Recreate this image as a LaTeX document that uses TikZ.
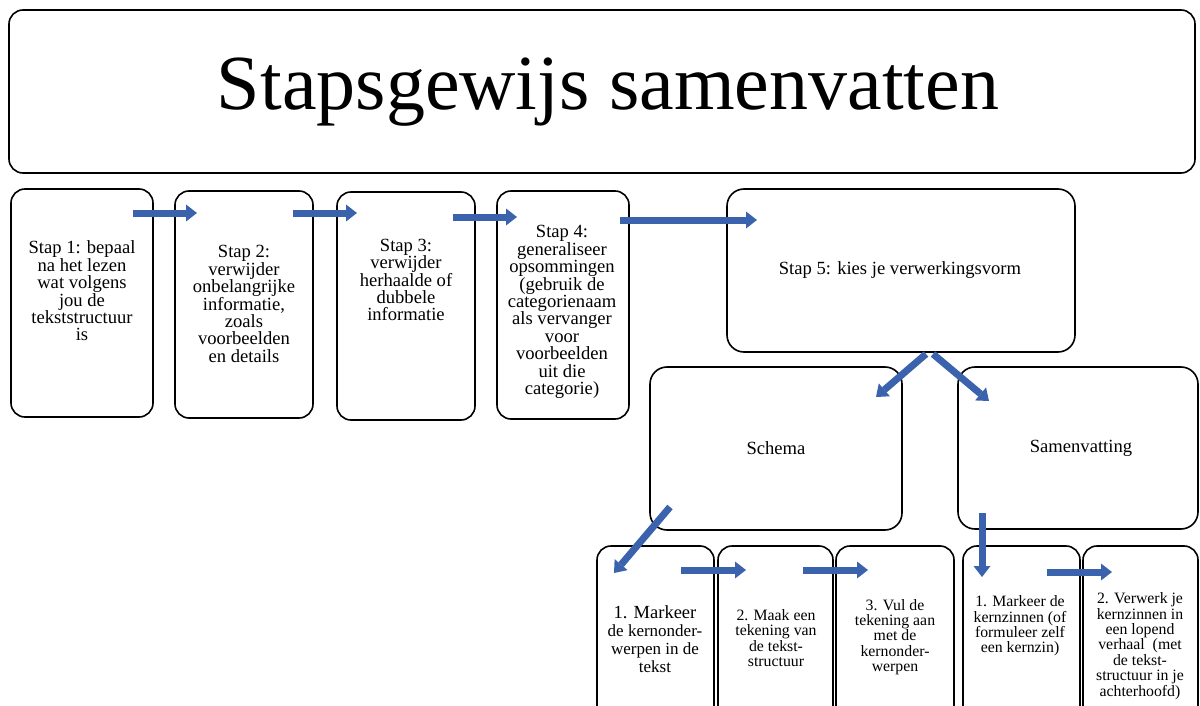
\documentclass[tikz,border=0pt]{standalone}
\usepackage{fontspec}
\setmainfont{Liberation Serif}
\usetikzlibrary{arrows.meta}
\definecolor{arrowblue}{RGB}{59,98,172}
\begin{document}
\begin{tikzpicture}[x=1pt,y=-1pt,
  box/.style={draw=black, line width=1.6pt, rounded corners=14pt, inner sep=0pt, outer sep=0pt},
  toptxt/.style={align=center, inner sep=0pt, font=\fontsize{18.6}{17.4}\selectfont},
  bottxt/.style={align=center, inner sep=0pt, font=\fontsize{15.8}{15.4}\selectfont},
  blockarrow/.style={draw=arrowblue, line width=7pt,
    -{Triangle[width=17pt 0, length=11pt 0, line width=0pt, fill=arrowblue]}}]
\useasboundingbox (0,0) rectangle (1200,706);
\clip (0,0) rectangle (1200,706);
% boxes
\node[box, minimum width=1186pt, minimum height=163pt] (title) at (602,91.5) {};
\node[box, minimum width=142pt, minimum height=228pt] (s1) at (82,303) {};
\node[box, minimum width=138pt, minimum height=227pt] (s2) at (244,304.5) {};
\node[box, minimum width=138pt, minimum height=228pt] (s3) at (406,306) {};
\node[box, minimum width=132pt, minimum height=228pt] (s4) at (563,305) {};
\node[box, minimum width=348pt, minimum height=163pt, rounded corners=17pt] (s5) at (901,270.5) {};
\node[box, minimum width=252pt, minimum height=163pt, rounded corners=17pt] (schema) at (776,448.5) {};
\node[box, minimum width=240pt, minimum height=162pt, rounded corners=17pt] (samen) at (1078,448) {};
\node[box, minimum width=117pt, minimum height=214pt] (b1) at (655.5,653) {};
\node[box, minimum width=115pt, minimum height=214pt] (b2) at (775.5,653) {};
\node[box, minimum width=118pt, minimum height=214pt] (b3) at (895,653) {};
\node[box, minimum width=117pt, minimum height=214pt] (b4) at (1021.5,653) {};
\node[box, minimum width=115pt, minimum height=214pt] (b5) at (1140.5,653) {};
% texts
\node[inner sep=0pt, anchor=base, font=\fontsize{78}{80}\selectfont] (titletxt) at (608,110) {Stapsgewijs samenvatten};
\node[toptxt] (t1) at (82,291) {Stap 1: bepaal\\na het lezen\\wat volgens\\jou de\\tekststructuur\\is};
\node[toptxt] (t2) at (244,304) {Stap 2:\\verwijder\\onbelangrijke\\informatie,\\zoals\\voorbeelden\\en details};
\node[toptxt] (t3) at (406,280) {Stap 3:\\verwijder\\herhaalde of\\dubbele\\informatie};
\node[toptxt] (t4) at (562,312) {Stap 4:\\generaliseer\\opsommingen\\(gebruik de\\categorienaam\\als vervanger\\voor\\voorbeelden\\uit die\\categorie)};
\node[toptxt] (t5) at (900,270) {Stap 5: kies je verwerkingsvorm};
\node[toptxt] (t6) at (776,448) {Schema};
\node[toptxt] (t7) at (1081,448) {Samenvatting};
\node[align=center, inner sep=0pt, font=\fontsize{17}{17.8}\selectfont] (t8) at (655,639) {{\fontsize{18.5}{17.8}\selectfont 1. Markeer}\\de kernonder-\\werpen in de\\tekst};
\node[bottxt] (t9) at (776,638) {2. Maak een\\tekening van\\de tekst-\\structuur};
\node[bottxt] (t10) at (895,637) {3. Vul de\\tekening aan\\met de\\kernonder-\\werpen};
\node[bottxt] (t11) at (1020,626) {1. Markeer de\\kernzinnen (of\\formuleer zelf\\een kernzin)};
\node[bottxt] (t12) at (1140,646) {2. Verwerk je\\kernzinnen in\\een lopend\\verhaal~ (met\\de tekst-\\structuur in je\\achterhoofd)};
% arrow end points
\coordinate (a1s) at (133,213); \coordinate (a1e) at (197,213);
\coordinate (a2s) at (293,213); \coordinate (a2e) at (357,213);
\coordinate (a3s) at (453,217); \coordinate (a3e) at (517,217);
\coordinate (a4s) at (620,220); \coordinate (a4e) at (757,220);
\coordinate (a5s) at (926,354); \coordinate (a5e) at (876,397);
\coordinate (a6s) at (933,354); \coordinate (a6e) at (989,401);
\coordinate (a7s) at (670,507); \coordinate (a7e) at (614,573);
\coordinate (a8s) at (681,570); \coordinate (a8e) at (746,570);
\coordinate (a9s) at (803,570); \coordinate (a9e) at (868,570);
\coordinate (a10s) at (982,513); \coordinate (a10e) at (982,577);
\coordinate (a11s) at (1047,572); \coordinate (a11e) at (1112,572);
\foreach \i in {1,...,11} {\draw[blockarrow] (a\i s) -- (a\i e);}
\end{tikzpicture}
\end{document}
